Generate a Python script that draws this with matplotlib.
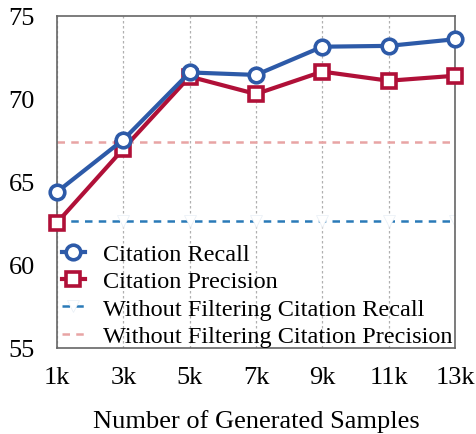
import matplotlib
matplotlib.use('Agg')
import matplotlib.pyplot as plt

samples = [1, 3, 5, 7, 9, 11, 13]
x_labels = ['1k', '3k', '5k', '7k', '9k', '11k', '13k']
recall = [64.4, 67.55, 71.6, 71.45, 73.15, 73.2, 73.6]
precision = [62.55, 67.0, 71.35, 70.3, 71.65, 71.1, 71.4]
base_recall = 62.65
base_precision = 67.4

plt.rcParams['font.family'] = ['Liberation Serif', 'DejaVu Serif']

fig = plt.figure(figsize=(4.77, 4.35), dpi=100)
ax = fig.add_axes([57/477, 1 - 349/435, (455-57)/477, (349-17)/435])

ax.plot(samples, recall, color='#2d5aa8', lw=3, marker='o', ms=10.5,
        mfc='white', mew=2.6, label='Citation Recall', zorder=4, clip_on=False)
ax.plot(samples, precision, color='#b01038', lw=3, marker='s', ms=10.5,
        mfc='white', mew=2.6, label='Citation Precision', zorder=3, clip_on=False)
ax.plot(samples, [base_recall]*len(samples), color='#2a7ab8', lw=1.8, ls=(0, (3, 2.5)),
        marker='v', ms=8, mfc='white', mec='#e8eef5', mew=0.5,
        label='Without Filtering Citation Recall', zorder=2)
ax.plot(samples, [base_precision]*len(samples), color='#e8a4a4', lw=1.8, ls=(0, (3, 2.5)),
        label='Without Filtering Citation Precision', zorder=2)

ax.set_xlim(1, 13)
ax.set_ylim(55, 75)
ax.set_xticks(samples)
ax.set_xticklabels(x_labels)
ax.set_yticks([55, 60, 65, 70, 75])
ax.tick_params(axis='both', length=0, labelsize=19)
ax.tick_params(axis='x', pad=13)
ax.tick_params(axis='y', pad=16)
ax.grid(axis='x', color='#b0b0b0', ls=(0, (2, 2)), lw=0.9)
for sp in ax.spines.values():
    sp.set_color('#666666')
    sp.set_linewidth(1.2)

ax.set_xlabel('Number of Generated Samples', fontsize=19, labelpad=15)
ax.legend(loc='lower left', fontsize=17.5, frameon=False, handlelength=0.95,
          handletextpad=0.75, labelspacing=0.22, borderaxespad=0.0,
          borderpad=0.2, bbox_to_anchor=(0.0, -0.012))

fig.savefig('out.png', dpi=100)
